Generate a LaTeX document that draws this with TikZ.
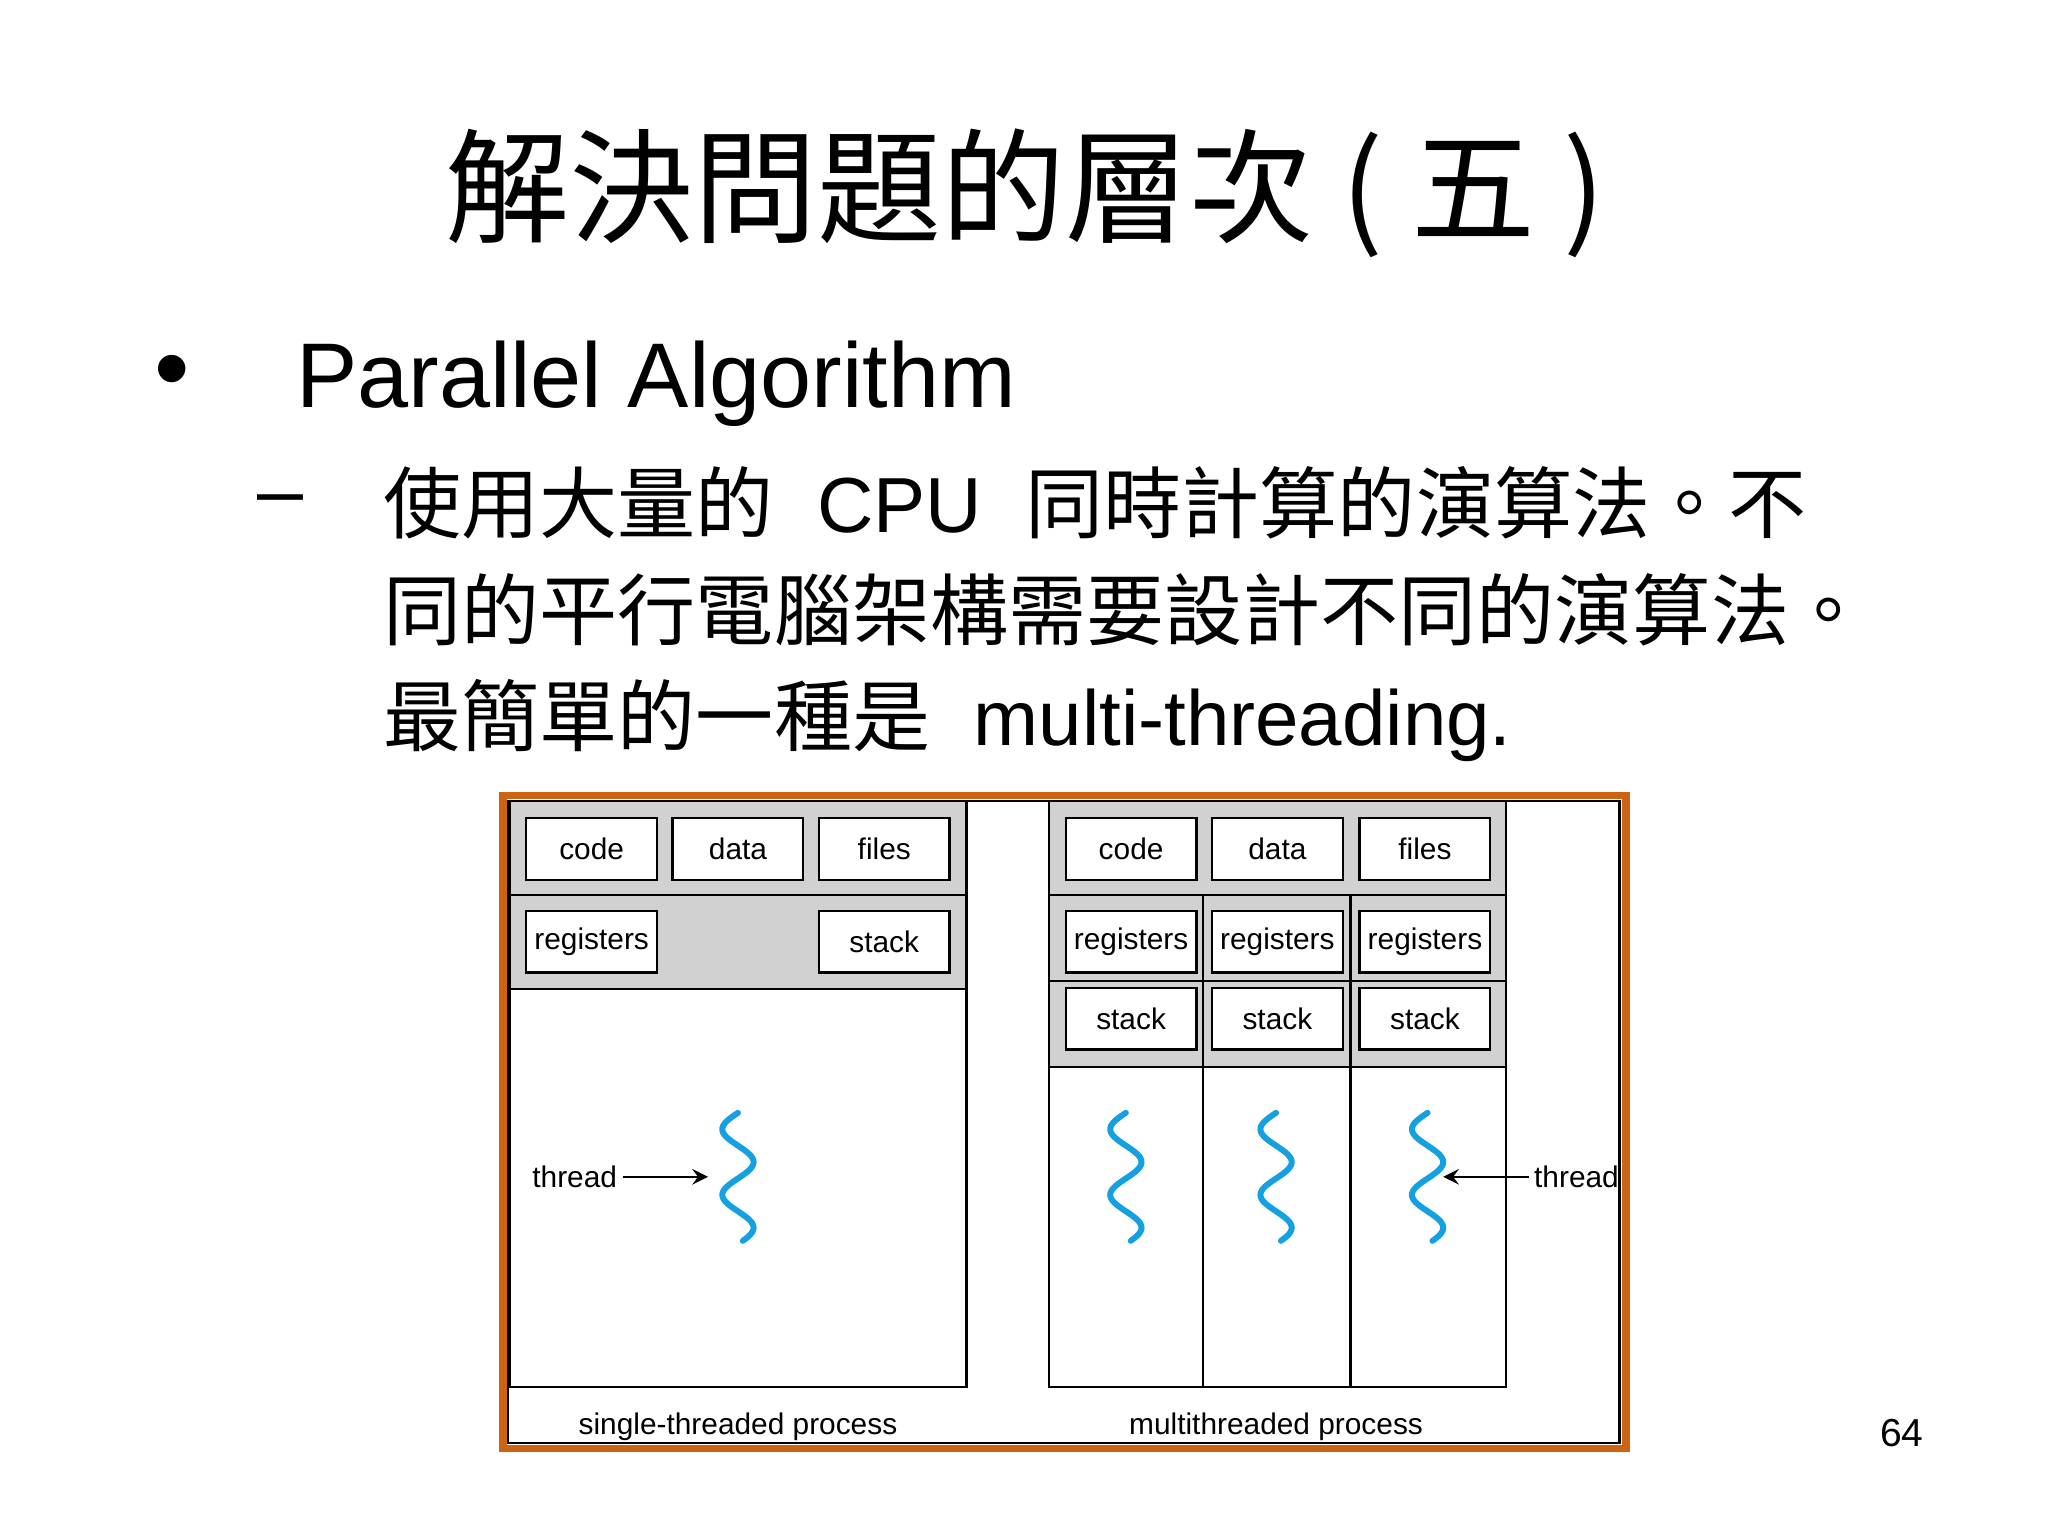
\documentclass[tikz,border=0pt]{standalone}
\usepackage{fontspec}
\setmainfont{Liberation Sans}
\newfontfamily\cjk{Noto Sans CJK TC}
\begin{document}
\begin{tikzpicture}[x=0.01cm,y=-0.01cm,
  lbl/.style={draw=black,line width=0.5pt,fill=white,minimum width=1cm,minimum height=0.47cm,inner sep=0pt,font=\fontsize{6.5}{7}\selectfont},
  band/.style={fill=black!18,draw=black,line width=0.5pt},
  wave/.style={draw={rgb,255:red,20;green,160;blue,225},line width=1.3pt,line cap=round},
  small/.style={font=\fontsize{6.5}{7}\selectfont,inner sep=1pt}]
\useasboundingbox (0,0) rectangle (1568,1176);
% title
\node (title) at (785,148) {\fontsize{27}{30}\selectfont\cjk 解決問題的層次 ( 五 )};
\node (bul) at (132,290) {\fontsize{22}{24}\selectfont •};
\node[anchor=base west,inner sep=0pt] (pa) at (226,312) {\fontsize{20}{24}\selectfont Parallel Algorithm};
\node (dash) at (215,388) {\fontsize{18}{20}\selectfont –};
\node[anchor=base west,inner sep=0pt] (l1) at (293,408) {\fontsize{17}{20}\selectfont{\cjk 使用大量的}\ \ CPU \ {\cjk 同時計算的演算法。不}};
\node[anchor=base west,inner sep=0pt] (l2) at (293,490) {\fontsize{17}{20}\selectfont\cjk 同的平行電腦架構需要設計不同的演算法。};
\node[anchor=base west,inner sep=0pt] (l3) at (293,571) {\fontsize{17}{20}\selectfont{\cjk 最簡單的一種是}\ \ multi-threading.};
\node (pg) at (1456,1097) {\fontsize{8.5}{10}\selectfont 64};
% frame
\draw[draw={rgb,255:red,205;green,100;blue,20},line width=1.6pt] (385,609) rectangle (1245,1109);
\draw[line width=0.5pt] (389,613) rectangle (1240,1105);
% left process
\draw[line width=0.5pt] (390,613) rectangle (740,1062);
\draw[band] (390,613) rectangle (740,685);
\draw[band] (390,685) rectangle (740,757);
\node[lbl] (lcode) at (453,650) {code};
\node[lbl] (ldata) at (565,650) {data};
\node[lbl] (lfiles) at (677,650) {files};
\node[lbl] (lreg) at (453,721) {registers};
\node[lbl] (lstack) at (677,721) {stack};
\draw[wave] plot[domain=0:2.6,samples=60,smooth] ({565-12*sin(\x*270)},{852+\x*37.7});
\coordinate (lw) at (542,901);
\node[small] (lthr) at (440,901) {thread};
\draw[-stealth,line width=0.5pt] (lthr) -- (lw);
\node[small] (lcap) at (565,1092) {single-threaded process};
% right process
\draw[line width=0.5pt] (803,613) rectangle (1153,1062);
\draw[band] (803,613) rectangle (1153,685);
\draw[band] (803,685) rectangle (1153,751);
\draw[band] (803,751) rectangle (1153,817);
\draw[line width=0.5pt] (921,685) -- (921,1062) (1034,685) -- (1034,1062);
\node[lbl] (rcode) at (866,650) {code};
\node[lbl] (rdata) at (978,650) {data};
\node[lbl] (rfiles) at (1091,650) {files};
\foreach \n/\cx in {a/866,b/978,c/1091}{
  \node[lbl] (rreg\n) at (\cx,721) {registers};
  \node[lbl] (rstack\n) at (\cx,780) {stack};
}
\foreach \cx in {862,977,1093}{
  \draw[wave] plot[domain=0:2.6,samples=60,smooth] ({\cx-12*sin(\x*270)},{852+\x*37.7});
}
\coordinate (rw) at (1105,901);
\node[small] (rthr) at (1207,901) {thread};
\draw[-stealth,line width=0.5pt] (rthr) -- (rw);
\node[small] (rcap) at (977,1092) {multithreaded process};
\end{tikzpicture}
\end{document}
